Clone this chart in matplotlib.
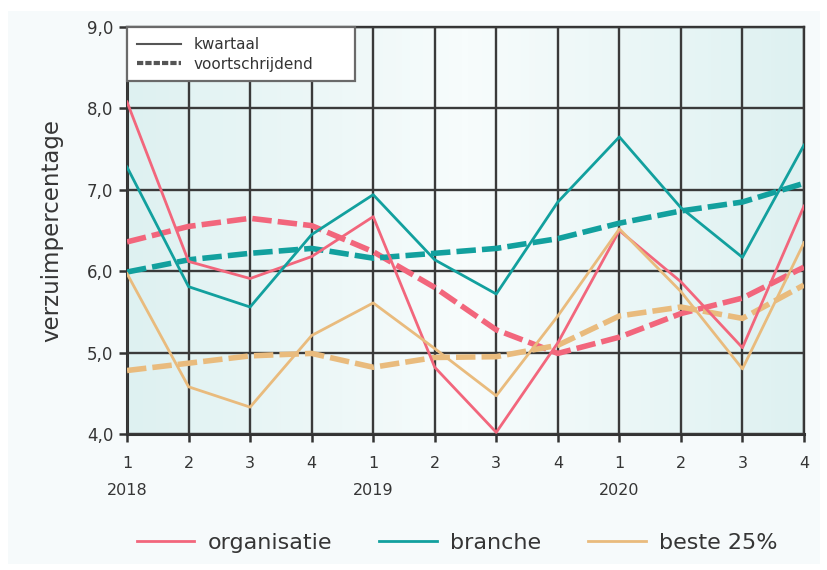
import numpy as np
import matplotlib.pyplot as plt
from matplotlib.lines import Line2D
from matplotlib.patches import Rectangle
from matplotlib.colors import LinearSegmentedColormap

# ===== data =====
quarters = ['1', '2', '3', '4', '1', '2', '3', '4', '1', '2', '3', '4']
years = ['2018', '', '', '', '2019', '', '', '', '2020', '', '', '']

org_q = [8.08, 6.12, 5.91, 6.18, 6.67, 4.82, 4.02, 5.12, 6.50, 5.87, 5.06, 6.80]
org_v = [6.36, 6.55, 6.65, 6.56, 6.24, 5.80, 5.28, 4.99, 5.19, 5.48, 5.67, 6.05]
bra_q = [7.28, 5.81, 5.56, 6.45, 6.94, 6.14, 5.72, 6.85, 7.65, 6.78, 6.17, 7.55]
bra_v = [5.99, 6.14, 6.22, 6.28, 6.16, 6.22, 6.28, 6.40, 6.59, 6.74, 6.85, 7.08]
best_q = [5.97, 4.58, 4.33, 5.21, 5.61, 5.05, 4.47, 5.45, 6.52, 5.75, 4.80, 6.35]
best_v = [4.78, 4.87, 4.96, 4.99, 4.82, 4.94, 4.95, 5.09, 5.45, 5.56, 5.42, 5.83]

C_ORG = '#f2667c'
C_BRA = '#12a09e'
C_BEST = '#e9bb7d'
TXT = '#353535'

plt.rcParams['font.family'] = ['DejaVu Sans']

fig = plt.figure(figsize=(8.28, 5.70), dpi=100, facecolor='white')
# lichte achtergrond panel
fig.patches.append(Rectangle((0.01, 0.01), 0.98, 0.97, transform=fig.transFigure,
                             facecolor='#f6fafb', edgecolor='none', zorder=-10))

ax = fig.add_axes([0.1534, 0.2386, 0.8176, 0.714])
x = np.arange(len(quarters))

# gradient achtergrond in plotgebied
grad = np.abs(np.linspace(-1, 1, 200))
grad = np.vstack([grad] * 10)
bg_cmap = LinearSegmentedColormap.from_list('bg', ['#f7fcfc', '#def1f1'])
ax.imshow(grad, extent=[0, 11, 4, 9], aspect='auto', cmap=bg_cmap,
          zorder=0, interpolation='bilinear')

ax.plot(x, org_v, color=C_ORG, lw=4, ls=(0, (3.5, 1.1)), zorder=3)
ax.plot(x, bra_v, color=C_BRA, lw=4, ls=(0, (3.5, 1.1)), zorder=3)
ax.plot(x, best_v, color=C_BEST, lw=4, ls=(0, (3.5, 1.1)), zorder=3)
ax.plot(x, org_q, color=C_ORG, lw=2, zorder=4)
ax.plot(x, bra_q, color=C_BRA, lw=2, zorder=4)
ax.plot(x, best_q, color=C_BEST, lw=2, zorder=4)

ax.set_xlim(0, 11)
ax.set_ylim(4, 9)
ax.set_yticks([4, 5, 6, 7, 8, 9])
ax.set_yticklabels(['4,0', '5,0', '6,0', '7,0', '8,0', '9,0'], fontsize=12, color=TXT)
ax.set_xticks(x)
ax.set_xticklabels([q + ('\n' + y if y else '') for q, y in zip(quarters, years)],
                   fontsize=11.5, color=TXT)
for lbl in ax.get_xticklabels():
    lbl.set_linespacing(2.0)
ax.tick_params(axis='both', length=6, width=1.8, color='#333333', direction='out')
ax.tick_params(axis='x', pad=10)
ax.tick_params(axis='y', pad=4)

ax.grid(True, color='#3a3a3a', lw=1.7, zorder=2)
ax.set_axisbelow(False)
for s in ax.spines.values():
    s.set_color('#333333')
    s.set_linewidth(1.7)
ax.spines['left'].set_linewidth(2.2)
ax.spines['bottom'].set_linewidth(2.2)

ax.set_ylabel('verzuimpercentage', fontsize=16.5, color=TXT, labelpad=17)

# legenda lijnstijl
h_style = [Line2D([], [], color='#555555', lw=1.5),
           Line2D([], [], color='#555555', lw=3, ls=(0, (1.5, 0.5)))]
leg1 = ax.legend(h_style, ['kwartaal', 'voortschrijdend'], loc='upper left',
                 bbox_to_anchor=(0.0, 0.0, 0.337, 1.0), mode='expand', fontsize=11,
                 frameon=True, fancybox=False, handlelength=2.9, borderpad=0.65,
                 labelspacing=0.3, handletextpad=0.8, borderaxespad=0,
                 framealpha=1, edgecolor='#6a6a6a', labelcolor=TXT)
leg1.get_frame().set_linewidth(1.6)
leg1.set_zorder(6)

# legenda series onderaan
h_ser = [Line2D([], [], color=C_ORG, lw=2),
         Line2D([], [], color=C_BRA, lw=2),
         Line2D([], [], color=C_BEST, lw=2)]
fig.legend(h_ser, ['organisatie', 'branche', 'beste 25%'], loc='center',
           bbox_to_anchor=(0.552, 0.048), ncol=3, frameon=False, fontsize=16,
           handlelength=2.6, handletextpad=0.6, columnspacing=2.1, labelcolor=TXT)

plt.savefig('out.png', dpi=100, facecolor='white')
